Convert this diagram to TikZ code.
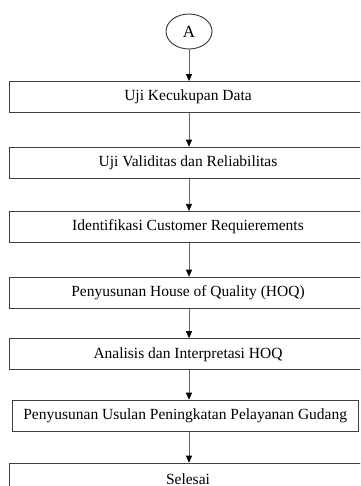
\documentclass[tikz,border=0pt]{standalone}
\usepackage{fontspec}
\setmainfont{Liberation Serif}
\usetikzlibrary{shapes.geometric,arrows.meta}

\tikzset{
  stepbox/.style={draw=black!75,line width=1.2pt,minimum width=357pt,minimum height=31pt,inner sep=0pt,font=\fontsize{15.5}{18}\selectfont},
  conn/.style={draw=black!80,line width=0.9pt,minimum width=46pt,minimum height=35pt,inner sep=0pt,ellipse,font=\fontsize{17}{20}\selectfont},
  flow/.style={draw=black!60,line width=0.8pt,-{Triangle[color=black,fill=black,length=7pt,width=6pt]}}
}

\begin{document}
\begin{tikzpicture}[x=1pt,y=1pt,yscale=-1,xscale=1]
    \useasboundingbox (0,0) rectangle (360,486);
    \clip (0,0) rectangle (360,486);

    %Shape: Connector
    \node [conn] (conA) at (189,31.5) {A};

    %Shape: Rectangle
    \node [stepbox] (kecukupan) at (188,97.2) {Uji Kecukupan Data};
    %Shape: Rectangle
    \node [stepbox] (validitas) at (188,162.8) {Uji Validitas dan Reliabilitas};
    %Shape: Rectangle
    \node [stepbox] (identifikasi) at (188,227) {Identifikasi Customer Requierements};
    %Shape: Rectangle
    \node [stepbox] (hoq) at (188,292.8) {Penyusunan House of Quality (HOQ)};
    %Shape: Rectangle
    \node [stepbox] (analisis) at (188,354.3) {Analisis dan Interpretasi HOQ};
    %Shape: Rectangle
    \node [stepbox,minimum width=346pt] (usulan) at (185.2,415.8) {Penyusunan Usulan Peningkatan Pelayanan Gudang};
    %Shape: Rectangle
    \node [stepbox] (selesai) at (188,478.8) {Selesai};

    % Arrows
    \draw [flow] (conA.south) -- (conA.south |- kecukupan.north);
    \draw [flow] (kecukupan.south -| conA) -- (conA |- validitas.north);
    \draw [flow] (validitas.south -| conA) -- (conA |- identifikasi.north);
    \draw [flow] (identifikasi.south -| conA) -- (conA |- hoq.north);
    \draw [flow] (hoq.south -| conA) -- (conA |- analisis.north);
    \draw [flow] (analisis.south -| conA) -- (conA |- usulan.north);
    \draw [flow] (usulan.south -| conA) -- (conA |- selesai.north);

\end{tikzpicture}
\end{document}
